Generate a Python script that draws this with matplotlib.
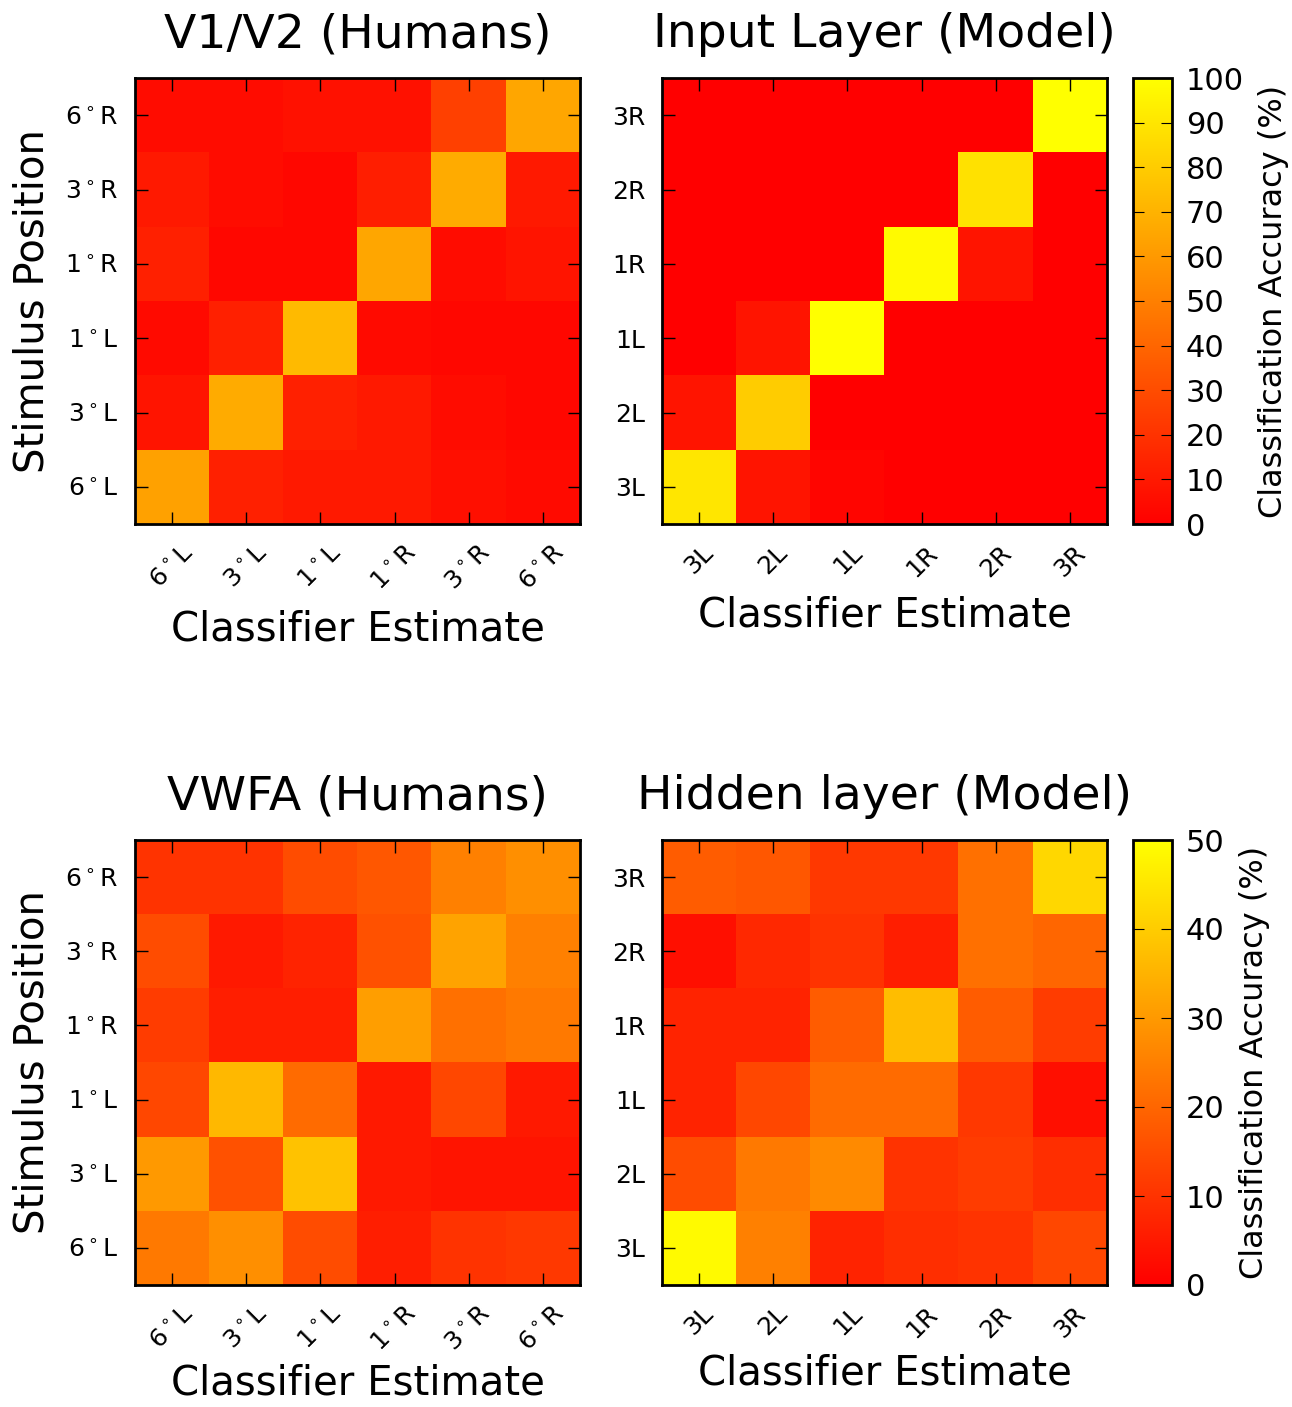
import numpy as np
import matplotlib
matplotlib.use("Agg")
import matplotlib.pyplot as plt

# labels (rows listed top to bottom, columns left to right)
human_cols = ["6$^\\circ$L", "3$^\\circ$L", "1$^\\circ$L", "1$^\\circ$R", "3$^\\circ$R", "6$^\\circ$R"]
human_rows = human_cols[::-1]
model_cols = ["3L", "2L", "1L", "1R", "2R", "3R"]
model_rows = model_cols[::-1]

v1v2 = [
    [5, 5, 7, 7, 25, 65],
    [10, 5, 3, 12, 67, 10],
    [13, 3, 3, 65, 5, 8],
    [4, 13, 73, 4, 3, 3],
    [8, 67, 13, 10, 5, 3],
    [63, 13, 10, 10, 6, 4],
]
input_layer = [
    [0, 0, 0, 0, 0, 100],
    [0, 0, 0, 0, 88, 0],
    [0, 0, 0, 98, 8, 0],
    [0, 8, 100, 0, 0, 0],
    [8, 80, 0, 0, 0, 0],
    [90, 8, 2, 0, 0, 0],
]
vwfa = [
    [10, 10, 15, 17, 25, 28],
    [15, 5, 7, 16, 32, 25],
    [12, 6, 6, 31, 22, 24],
    [14, 36, 21, 5, 14, 5],
    [30, 16, 38, 5, 4, 4],
    [24, 28, 15, 6, 10, 11],
]
hidden = [
    [18, 17, 11, 11, 22, 42],
    [3, 8, 10, 6, 22, 20],
    [7, 7, 18, 37, 18, 12],
    [7, 14, 21, 21, 11, 3],
    [15, 24, 27, 10, 12, 9],
    [49, 25, 7, 9, 10, 14],
]

titles = ["V1/V2 (Humans)", "Input Layer (Model)", "VWFA (Humans)", "Hidden layer (Model)"]

fig = plt.figure(figsize=(12.92, 14.07), dpi=100)
W, H = 1292.0, 1407.0


def box(x0, y0, x1, y1):
    return [x0 / W, 1 - y1 / H, (x1 - x0) / W, (y1 - y0) / H]


panels = [
    (v1v2, human_rows, human_cols, titles[0], 100, box(135, 78, 580, 524), None, 10),
    (input_layer, model_rows, model_cols, titles[1], 100, box(662, 78, 1107, 524), box(1133, 78, 1172, 524), 10),
    (vwfa, human_rows, human_cols, titles[2], 50, box(135, 840, 580, 1285), None, 5),
    (hidden, model_rows, model_cols, titles[3], 50, box(662, 840, 1107, 1285), box(1133, 840, 1172, 1285), 8),
]

for data, rows, cols, title, vmax, pos, cpos, xpad in panels:
    ax = fig.add_axes(pos)
    im = ax.imshow(np.array(data), cmap="autumn", vmin=0, vmax=vmax,
                   interpolation="nearest", aspect="auto")
    ax.set_xticks(range(len(cols)))
    ax.set_xticklabels(cols, rotation=45, fontsize=18)
    ax.set_yticks(range(len(rows)))
    ax.set_yticklabels(rows, fontsize=18)
    ax.tick_params(direction="in", top=True, right=True, length=9, width=1, pad=12)
    for s in ax.spines.values():
        s.set_linewidth(2)
    ax.set_title(title, fontsize=34, pad=22)
    ax.set_xlabel("Classifier Estimate", fontsize=29, labelpad=xpad)
    if cpos is None:
        ax.set_ylabel("Stimulus Position", fontsize=29, labelpad=9)
    else:
        cax = fig.add_axes(cpos)
        cb = fig.colorbar(im, cax=cax)
        cb.set_ticks(np.arange(0, vmax + 1, 10))
        cb.ax.tick_params(labelsize=22, direction="in", left=True, right=True,
                          length=8, pad=10)
        cb.outline.set_linewidth(2)
        cb.set_label("Classification Accuracy (%)", fontsize=23, labelpad=10)

fig.savefig("out.png", dpi=100)
